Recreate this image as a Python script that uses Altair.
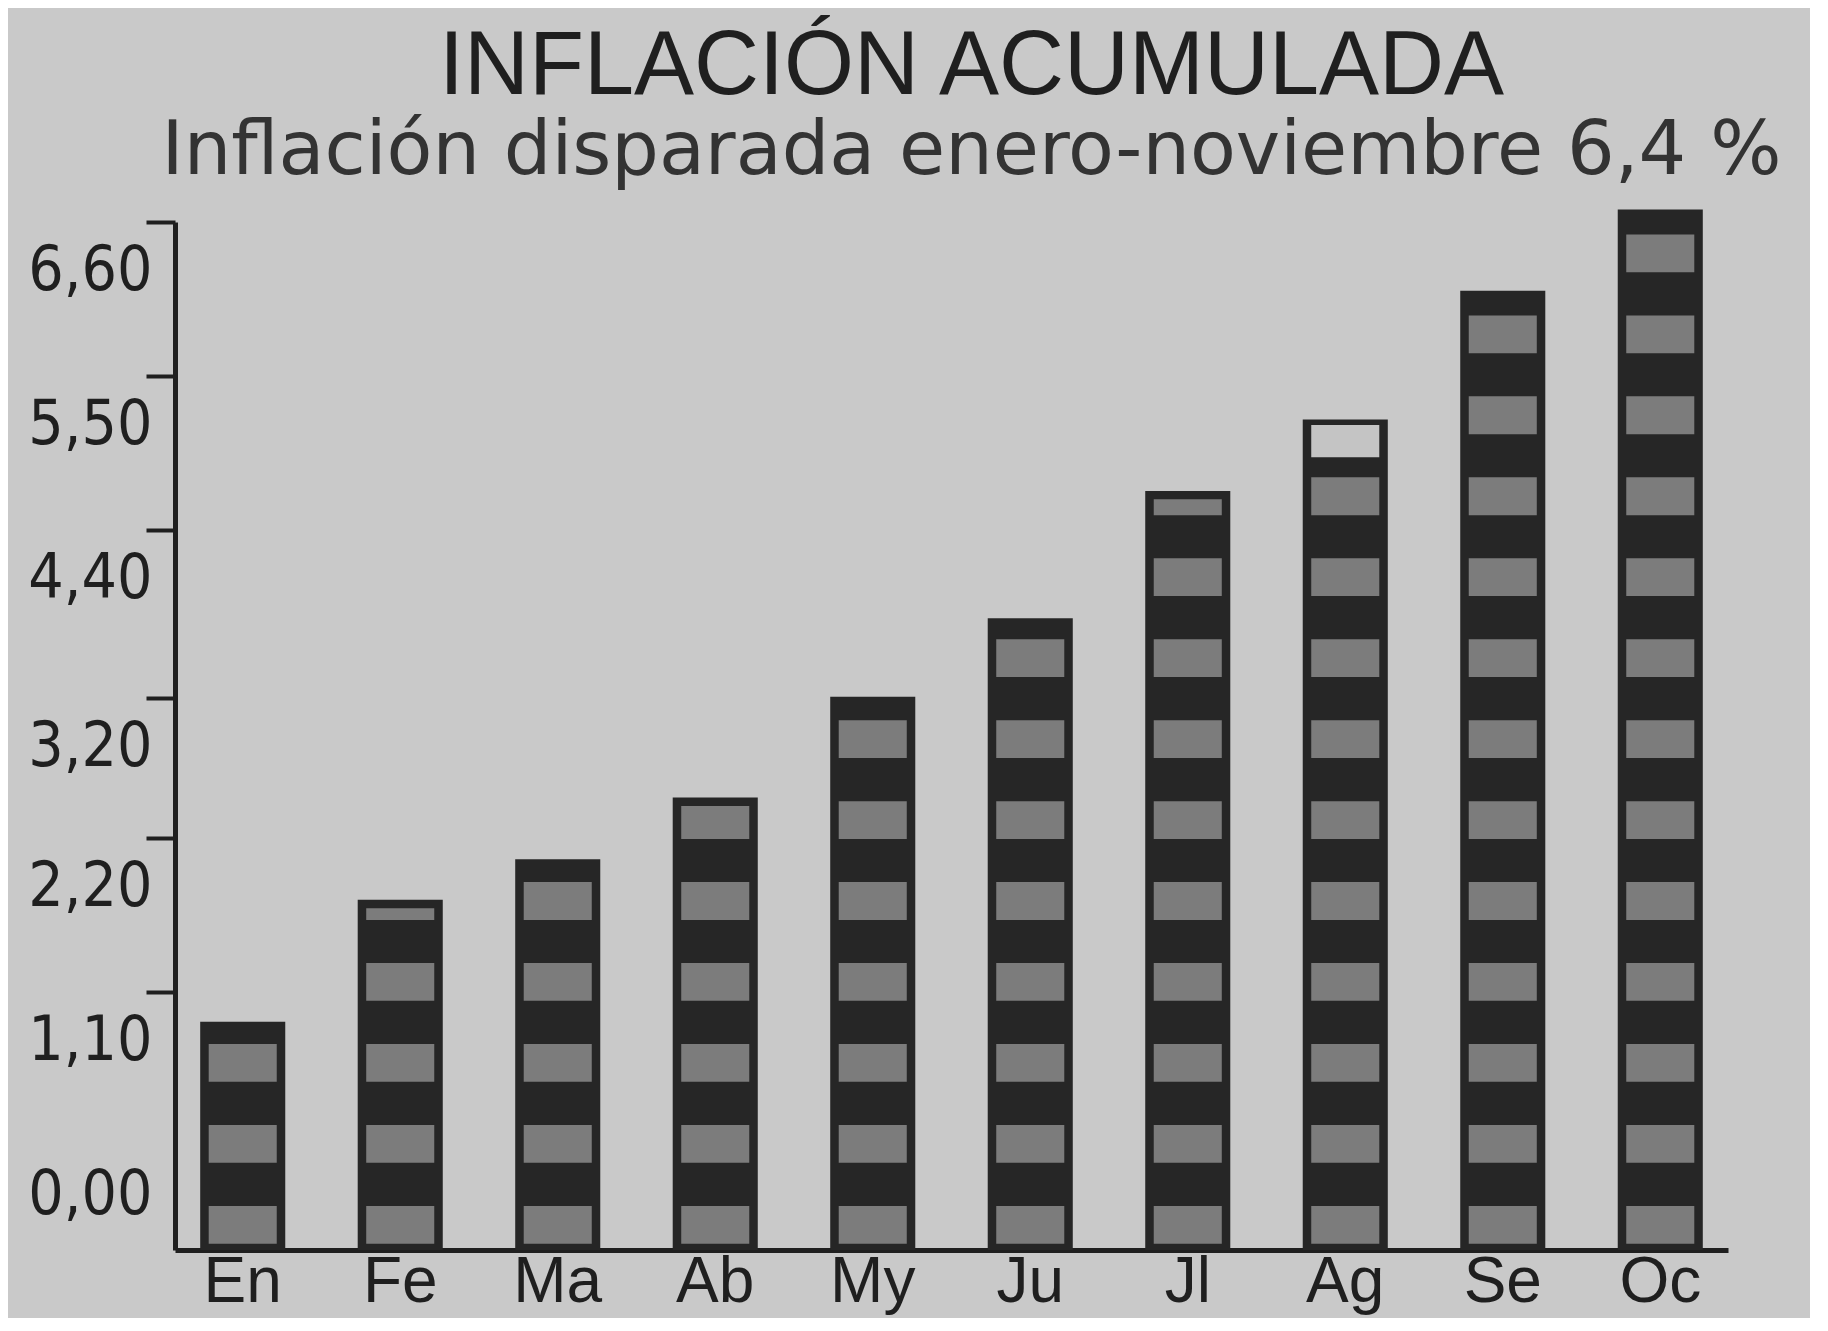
import altair as alt
import pandas as pd

# ---- data ----
MONTHS = ["En", "Fe", "Ma", "Ab", "My", "Ju", "Jl", "Ag", "Se", "Oc"]
VALUES = [0.89, 1.76, 2.05, 2.49, 3.21, 3.77, 4.68, 5.19, 6.11, 6.69]
LIGHT_FROM = [None, None, None, None, None, None, None, 4.92, None, None]
TICK_VALUES = [0.0, 1.1, 2.2, 3.2, 4.4, 5.5, 6.6]
TITLE = "INFLACIÓN ACUMULADA"
SUBTITLE = "Inflación disparada enero-noviembre 6,4 %"

# ---- scale / style constants ----
FLOOR = -0.74      # the drawn baseline sits below the 0,00 tick in the original
TOP = 6.6
PERIOD = 0.578     # stripe pattern repeat (data units)
BAND = 0.27        # gray stripe height
FIRST = -0.695     # first stripe start
INSET = 0.06

BG = "#c9c9c9"
INK = "#1f1f1f"
BAR = "#262626"
STRIPE = "#7c7c7c"
LIGHT = "#c4c4c4"

bars = pd.DataFrame({"mes": MONTHS, "valor": VALUES})

rows = []
for m, v in zip(MONTHS, VALUES):
    k = 0
    while True:
        lo = FIRST + k * PERIOD
        if lo >= v - INSET:
            break
        hi = min(lo + BAND, v - INSET)
        if hi - lo >= 0.08:
            rows.append({"mes": m, "valor": hi, "lo": lo})
        k += 1
stripes = pd.DataFrame(rows)

light = pd.DataFrame(
    [{"mes": m, "valor": v - 0.04, "lo": lf}
     for m, v, lf in zip(MONTHS, VALUES, LIGHT_FROM) if lf is not None]
)

xscale = alt.Scale(paddingInner=0.46, paddingOuter=0.16)
yscale = alt.Scale(domain=[FLOOR, TOP], nice=False, zero=False)

x_axis = alt.Axis(
    title=None, labelAngle=0, ticks=False, domain=True, domainWidth=5,
    domainColor=INK, labelFont="Liberation Sans", labelFontSize=64,
    labelColor=INK, labelPadding=0, grid=False,
)
y_axis = alt.Axis(
    title=None, values=TICK_VALUES, grid=False,
    labelExpr="replace(format(datum.value, '.2f'), '.', ',')",
    domain=True, domainWidth=5, domainColor=INK,
    ticks=True, tickSize=29, tickWidth=4, tickColor=INK,
    tickOpacity={"condition": {"test": "datum.value === 0", "value": 0}, "value": 1},
    labelFont="DejaVu Sans Condensed, Liberation Sans",
    labelFontSize=62, labelColor=INK, labelPadding=-6, labelOffset=48,
    labelBaseline="middle", labelFlush=False, labelOverlap=False,
)

X = alt.X("mes:N", sort=MONTHS, scale=xscale, axis=x_axis)
Y = alt.Y("valor:Q", scale=yscale, axis=y_axis)

base_bars = alt.Chart(bars).mark_bar(color=BAR).encode(
    x=X, y=Y, y2=alt.datum(FLOOR),
)

stripe_layer = alt.Chart(stripes).mark_bar(
    color=STRIPE, width=alt.RelativeBandSize(0.8)
).encode(x=X, y=Y, y2="lo:Q")

light_layer = alt.Chart(light).mark_bar(
    color=LIGHT, width=alt.RelativeBandSize(0.8)
).encode(x=X, y=Y, y2="lo:Q")

chart = alt.layer(base_bars, stripe_layer, light_layer).properties(
    width=1553,
    height=1028,
    autosize=alt.AutoSizeParams(type="none"),
    padding={"left": 167, "top": 214, "right": 82, "bottom": 68},
    background=BG,
    title=alt.TitleParams(
        text=TITLE, subtitle=SUBTITLE, anchor="middle", frame="group", dx=20,
        offset=19, font="Liberation Sans", fontSize=90, fontWeight="normal",
        color=INK, subtitleFont="DejaVu Sans", subtitleFontSize=75,
        subtitleColor="#333333", subtitlePadding=2,
    ),
).configure_view(stroke=None)

chart.save("out.html", embed_options={"renderer": "svg", "actions": False})
